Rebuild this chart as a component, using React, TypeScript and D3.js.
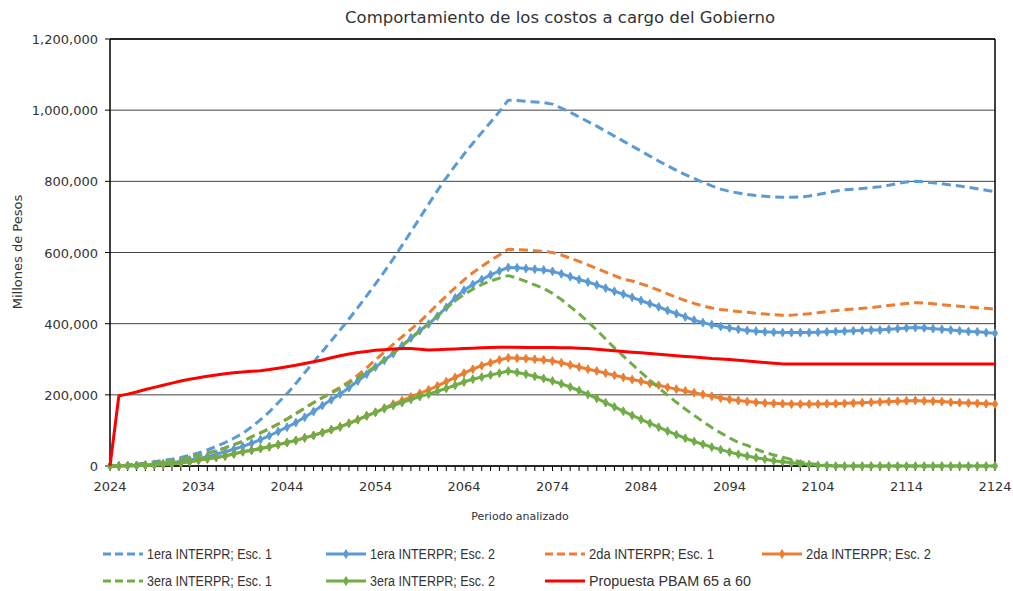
import React from "react";
import * as d3 from "d3";

// Years 2024..2124, values in thousands of millions de pesos (x1000 => millones)
const startYear = 2024;
const endYear = 2124;
const xTickLabels = [2024, 2034, 2044, 2054, 2064, 2074, 2084, 2094, 2104, 2114, 2124];
const yTicks = [0, 200000, 400000, 600000, 800000, 1000000, 1200000];

const seriesNames = [
  "1era INTERPR; Esc. 1",
  "1era INTERPR; Esc. 2",
  "2da INTERPR; Esc. 1",
  "2da INTERPR; Esc. 2",
  "3era INTERPR; Esc. 1",
  "3era INTERPR; Esc. 2",
  "Propuesta PBAM 65 a 60",
];

const primeraEsc1 = [
  0, 1, 3, 5, 8, 12, 16, 19, 24, 30, 37, 45, 55, 66, 78, 92, 110, 130, 152, 178,
  203, 232, 262, 292, 322, 352, 382, 413, 445, 478, 512, 546, 582, 620, 658, 697,
  736, 774, 810, 844, 876, 907, 937, 966, 996, 1028, 1027, 1025, 1023, 1021, 1017,
  1006, 994, 981, 968, 955, 941, 927, 913, 899, 885, 871, 857, 844, 831, 819, 808,
  797, 787, 778, 772, 767, 763, 760, 758, 756, 755, 755, 756, 759, 763, 768, 773,
  776, 778, 780, 782, 785, 789, 794, 798, 800, 799, 796, 793, 790, 787, 783, 779,
  775, 771,
];

const primeraEsc2 = [
  0, 0.5, 1, 2, 3, 5, 7, 10, 13, 17, 21, 26, 33, 40, 47, 55, 64, 74, 85, 97, 109,
  122, 137, 153, 170, 186, 202, 220, 239, 258, 278, 297, 316, 338, 360, 380, 399,
  421, 446, 472, 494, 510, 524, 537, 548, 558, 557, 555, 553, 551, 547, 540, 532,
  524, 517, 509, 500, 491, 483, 474, 465, 456, 447, 437, 428, 419, 410, 403, 397,
  392, 388, 384, 381, 379, 377, 376, 375, 375, 375, 375, 376, 377, 378, 379, 380,
  381, 382, 382, 384, 386, 388, 389, 388, 386, 384, 382, 380, 378, 377, 375, 373,
];

const segundaEsc1 = [
  0, 1, 2, 4, 6, 9, 12, 15, 19, 24, 30, 36, 43, 51, 60, 69, 82, 93, 105, 118, 132,
  147, 163, 178, 192, 207, 221, 237, 255, 276, 298, 320, 342, 363, 384, 405, 429,
  454, 478, 501, 523, 543, 561, 578, 593, 609, 608, 607, 605, 603, 600, 593, 584,
  575, 565, 555, 545, 535, 525, 520, 512, 504, 494, 484, 474, 465, 457, 450, 444,
  440, 437, 434, 432, 429, 427, 425, 424, 424, 426, 428, 431, 434, 437, 439, 441,
  443, 445, 448, 451, 454, 457, 459, 458, 456, 453, 451, 449, 447, 445, 443, 441,
];

const segundaEsc2 = [
  0, 0, 1, 1, 2, 3, 4, 6, 9, 12, 16, 20, 24, 28, 34, 40, 44, 49, 54, 60, 66, 72,
  79, 86, 94, 102, 110, 120, 130, 141, 151, 163, 174, 184, 194, 204, 214, 225, 237,
  249, 261, 272, 282, 290, 298, 304, 303, 302, 300, 298, 295, 290, 284, 278, 272,
  267, 261, 255, 249, 243, 238, 232, 227, 221, 216, 211, 206, 201, 196, 191, 187,
  184, 181, 179, 177, 176, 175, 174, 174, 174, 174, 175, 175, 176, 177, 178, 179,
  180, 181, 182, 183, 184, 183, 182, 181, 179, 178, 177, 176, 175, 174,
];

const terceraEsc1 = [
  0, 1, 2, 4, 6, 9, 12, 15, 19, 24, 30, 36, 43, 51, 60, 69, 82, 93, 105, 118, 132,
  147, 163, 178, 192, 205, 218, 233, 248, 264, 280, 298, 317, 338, 358, 379, 400,
  422, 444, 464, 482, 497, 510, 520, 528, 535, 528, 519, 509, 499, 485, 468, 448,
  428, 405, 382, 357, 332, 309, 286, 263, 241, 220, 199, 179, 160, 142, 125, 108,
  93, 79, 66, 58, 47, 38, 31, 25, 18, 12, 7, 4, 2, 1, 0, 0, 0, 0, 0, 0, 0, 0, 0,
  0, 0, 0, 0, 0, 0, 0, 0, 0,
];

const terceraEsc2 = [
  0, 0, 1, 1, 2, 3, 4, 6, 9, 12, 16, 20, 24, 28, 34, 40, 44, 49, 54, 60, 66, 72,
  79, 86, 94, 102, 110, 120, 130, 141, 151, 161, 170, 178, 187, 195, 202, 210, 218,
  227, 236, 244, 250, 256, 261, 267, 263, 258, 252, 246, 239, 231, 222, 212, 201,
  190, 178, 166, 154, 142, 131, 120, 109, 98, 88, 78, 69, 61, 53, 46, 39, 33, 28,
  23, 19, 15, 12, 9, 6, 4, 2, 1, 0, 0, 0, 0, 0, 0, 0, 0, 0, 0, 0, 0, 0, 0, 0, 0,
  0, 0, 0,
];

const propuesta = [
  0, 197, 202, 208, 215, 221, 227, 233, 239, 244, 248, 252, 256, 259, 262, 264,
  266, 268, 271, 275, 279, 283, 288, 293, 298, 304, 310, 315, 319, 322, 325, 327,
  329, 330, 330, 328, 326, 327, 328, 329, 330, 331, 332, 333, 334, 334, 334, 333,
  333, 333, 333, 332, 332, 331, 330, 328, 326, 324, 322, 320, 318, 316, 314, 312,
  310, 308, 306, 304, 302, 301, 299, 297, 295, 293, 291, 289, 287, 287, 287, 287,
  287, 287, 287, 287, 287, 287, 287, 287, 287, 287, 287, 287, 287, 287, 287, 287,
  287, 287, 287, 287, 287,
];

const seriesValues = [primeraEsc1, primeraEsc2, segundaEsc1, segundaEsc2, terceraEsc1, terceraEsc2, propuesta];
const seriesColors = ["#5B9BD5", "#5B9BD5", "#ED7D31", "#ED7D31", "#70AD47", "#70AD47", "#FF0000"];
const seriesDashed = [true, false, true, false, true, false, false];
const seriesMarkers = [false, true, false, true, false, true, false];

const W = 1013;
const H = 591;
const M = { left: 110, right: 995, top: 39, bottom: 466 };
const FONT = "'DejaVu Sans', sans-serif";

export default function App() {
  const years = d3.range(startYear, endYear + 1);
  const x = d3.scaleLinear().domain([startYear, endYear]).range([M.left, M.right]);
  const y = d3.scaleLinear().domain([0, 1200000]).range([M.bottom, M.top]);
  const line = d3
    .line<number>()
    .x((_, i) => x(years[i]))
    .y((d) => y(d * 1000));
  const diamond = d3.symbol().type(d3.symbolDiamond).size(22)();

  const legendCols = [103, 326, 545, 762];
  const legendRows = [554, 581];

  return (
    <svg
      width={W}
      height={H}
      style={{ position: "absolute", left: 0, top: 0, background: "#fff" }}
      fontFamily={FONT}
    >
      <rect x={0} y={0} width={W} height={H} fill="#fff" />
      <text x={560} y={23} textAnchor="middle" fontSize={15.5} fill="#333" textLength={430} lengthAdjust="spacingAndGlyphs">
        Comportamiento de los costos a cargo del Gobierno
      </text>

      {/* gridlines */}
      {yTicks.map((t) => (
        <line key={"g" + t} x1={M.left} x2={M.right} y1={y(t)} y2={y(t)} stroke="#444" strokeWidth={1} />
      ))}
      {/* y ticks and labels */}
      {yTicks.map((t) => (
        <g key={"yt" + t}>
          <line x1={M.left - 5} x2={M.left} y1={y(t)} y2={y(t)} stroke="#000" />
          <text x={98} y={y(t) + 5} textAnchor="end" fontSize={13} fill="#333">
            {d3.format(",")(t)}
          </text>
        </g>
      ))}
      {/* x ticks */}
      {years.map((yr) => (
        <line key={"xt" + yr} x1={x(yr)} x2={x(yr)} y1={M.bottom} y2={M.bottom + 5} stroke="#000" />
      ))}
      {xTickLabels.map((yr) => (
        <text key={"xl" + yr} x={x(yr)} y={491} textAnchor="middle" fontSize={13} fill="#333">
          {yr}
        </text>
      ))}
      {/* frame */}
      <line x1={M.left} x2={M.right} y1={M.top} y2={M.top} stroke="#000" strokeWidth={1.5} />
      <line x1={M.right} x2={M.right} y1={M.top} y2={M.bottom} stroke="#000" strokeWidth={1.5} />
      <line x1={M.left} x2={M.left} y1={M.top} y2={M.bottom} stroke="#000" strokeWidth={1.5} />
      <line x1={M.left} x2={M.right} y1={M.bottom} y2={M.bottom} stroke="#000" strokeWidth={1.5} />

      {/* series */}
      {seriesValues.map((vals, si) => (
        <g key={"s" + si}>
          <path
            d={line(vals) || ""}
            fill="none"
            stroke={seriesColors[si]}
            strokeWidth={3}
            strokeDasharray={seriesDashed[si] ? "9,5" : undefined}
            strokeLinejoin="round"
          />
          {seriesMarkers[si] &&
            vals.map((v, i) => (
              <path
                key={i}
                d={diamond || ""}
                transform={`translate(${x(years[i])},${y(v * 1000)})`}
                fill={seriesColors[si]}
                stroke={seriesColors[si]}
                strokeWidth={1}
              />
            ))}
        </g>
      ))}

      {/* axis titles */}
      <text x={520} y={520} textAnchor="middle" fontSize={11} fill="#333">
        Periodo analizado
      </text>
      <text
        transform={`translate(22,252) rotate(-90)`}
        textAnchor="middle"
        fontSize={13}
        fill="#333"
      >
        Millones de Pesos
      </text>

      {/* legend */}
      {seriesNames.map((name, si) => {
        const col = si % 4;
        const row = Math.floor(si / 4);
        const lx = legendCols[col];
        const ly = legendRows[row];
        return (
          <g key={"lg" + si}>
            <line
              x1={lx}
              x2={lx + 40}
              y1={ly}
              y2={ly}
              stroke={seriesColors[si]}
              strokeWidth={3}
              strokeDasharray={seriesDashed[si] ? "8,4" : undefined}
            />
            {seriesMarkers[si] && (
              <path
                d={diamond || ""}
                transform={`translate(${lx + 20},${ly})`}
                fill={seriesColors[si]}
                stroke={seriesColors[si]}
              />
            )}
            <text
              x={lx + 44}
              y={ly + 5}
              fontSize={14}
              fontFamily="'Liberation Sans', sans-serif"
              fill="#333"
              textLength={name === "Propuesta PBAM 65 a 60" ? 162 : 125}
              lengthAdjust="spacingAndGlyphs"
            >
              {name}
            </text>
          </g>
        );
      })}
    </svg>
  );
}
